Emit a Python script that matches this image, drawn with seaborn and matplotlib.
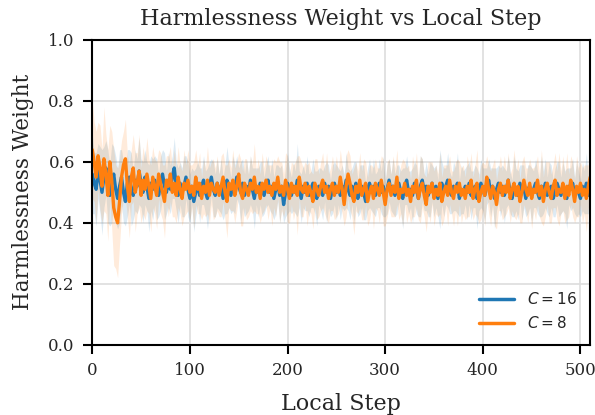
"""Harmlessness weight vs local step for two values of C."""
import matplotlib
matplotlib.use("Agg")
import matplotlib.pyplot as plt
import numpy as np
import pandas as pd
import seaborn as sns

# values, one every 2 local steps (0..510)
steps = list(range(0, 512, 2))

c16_mean = [
    0.56, 0.53, 0.51, 0.57, 0.54, 0.50, 0.55, 0.58, 0.52, 0.49, 0.53, 0.56, 0.51, 0.48, 0.52, 0.55,
    0.50, 0.47, 0.53, 0.55, 0.51, 0.49, 0.54, 0.52, 0.57, 0.53, 0.50, 0.55, 0.52, 0.48, 0.53, 0.51,
    0.54, 0.51, 0.49, 0.53, 0.56, 0.52, 0.50, 0.54, 0.51, 0.55, 0.58, 0.52, 0.49, 0.53, 0.50, 0.52,
    0.55, 0.51, 0.48, 0.52, 0.47, 0.50, 0.53, 0.49, 0.52, 0.54, 0.50, 0.48, 0.52, 0.55, 0.51, 0.49,
    0.53, 0.50, 0.52, 0.48, 0.51, 0.54, 0.52, 0.49, 0.53, 0.51, 0.55, 0.52, 0.50, 0.53, 0.49, 0.52,
    0.50, 0.54, 0.51, 0.48, 0.52, 0.50, 0.53, 0.51, 0.49, 0.52, 0.54, 0.50, 0.52, 0.48, 0.51, 0.53,
    0.49, 0.52, 0.46, 0.50, 0.53, 0.51, 0.49, 0.52, 0.50, 0.54, 0.51, 0.48, 0.52, 0.50, 0.53, 0.49,
    0.51, 0.53, 0.50, 0.48, 0.52, 0.51, 0.49, 0.53, 0.50, 0.52, 0.48, 0.51, 0.53, 0.50, 0.52, 0.49,
    0.52, 0.50, 0.54, 0.51, 0.49, 0.52, 0.50, 0.53, 0.48, 0.51, 0.52, 0.50, 0.47, 0.51, 0.53, 0.50,
    0.52, 0.49, 0.51, 0.53, 0.50, 0.52, 0.48, 0.51, 0.54, 0.50, 0.52, 0.49, 0.51, 0.53, 0.50, 0.48,
    0.52, 0.54, 0.50, 0.51, 0.49, 0.53, 0.51, 0.48, 0.52, 0.54, 0.50, 0.52, 0.49, 0.51, 0.53, 0.50,
    0.52, 0.48, 0.51, 0.53, 0.50, 0.52, 0.54, 0.50, 0.49, 0.52, 0.51, 0.53, 0.48, 0.51, 0.50, 0.52,
    0.50, 0.53, 0.49, 0.51, 0.52, 0.48, 0.50, 0.53, 0.51, 0.49, 0.52, 0.54, 0.50, 0.52, 0.48, 0.51,
    0.53, 0.50, 0.52, 0.49, 0.51, 0.54, 0.50, 0.48, 0.52, 0.51, 0.49, 0.53, 0.50, 0.52, 0.48, 0.51,
    0.52, 0.49, 0.51, 0.53, 0.50, 0.48, 0.52, 0.50, 0.53, 0.49, 0.51, 0.52, 0.48, 0.50, 0.53, 0.51,
    0.49, 0.52, 0.50, 0.48, 0.52, 0.51, 0.53, 0.49, 0.51, 0.50, 0.48, 0.52, 0.50, 0.53, 0.49, 0.51,
]
c8_mean = [
    0.64, 0.60, 0.55, 0.62, 0.58, 0.52, 0.61, 0.56, 0.49, 0.60, 0.54, 0.45, 0.42, 0.40, 0.47, 0.55,
    0.59, 0.61, 0.52, 0.47, 0.55, 0.58, 0.50, 0.53, 0.57, 0.49, 0.54, 0.51, 0.56, 0.52, 0.48, 0.55,
    0.52, 0.49, 0.56, 0.53, 0.50, 0.47, 0.54, 0.52, 0.56, 0.50, 0.53, 0.49, 0.55, 0.51, 0.48, 0.53,
    0.51, 0.54, 0.50, 0.52, 0.49, 0.55, 0.51, 0.53, 0.48, 0.52, 0.50, 0.54, 0.49, 0.53, 0.51, 0.50,
    0.53, 0.49, 0.52, 0.55, 0.50, 0.47, 0.53, 0.51, 0.54, 0.49, 0.52, 0.56, 0.50, 0.48, 0.53, 0.51,
    0.49, 0.53, 0.51, 0.55, 0.50, 0.52, 0.48, 0.53, 0.51, 0.54, 0.50, 0.52, 0.49, 0.53, 0.51, 0.55,
    0.50, 0.52, 0.49, 0.54, 0.51, 0.48, 0.53, 0.50, 0.52, 0.49, 0.55, 0.51, 0.50, 0.53, 0.49, 0.52,
    0.50, 0.47, 0.53, 0.51, 0.49, 0.52, 0.54, 0.50, 0.52, 0.48, 0.51, 0.53, 0.49, 0.52, 0.50, 0.55,
    0.51, 0.46, 0.52, 0.56, 0.53, 0.49, 0.47, 0.52, 0.50, 0.54, 0.49, 0.51, 0.53, 0.47, 0.50, 0.52,
    0.48, 0.53, 0.51, 0.49, 0.54, 0.50, 0.46, 0.51, 0.53, 0.49, 0.52, 0.50, 0.55, 0.48, 0.51, 0.50,
    0.53, 0.49, 0.51, 0.47, 0.52, 0.50, 0.54, 0.48, 0.51, 0.53, 0.49, 0.46, 0.52, 0.50, 0.53, 0.48,
    0.51, 0.49, 0.53, 0.47, 0.50, 0.52, 0.49, 0.54, 0.50, 0.48, 0.52, 0.50, 0.53, 0.49, 0.51, 0.48,
    0.52, 0.50, 0.54, 0.48, 0.51, 0.53, 0.47, 0.50, 0.52, 0.49, 0.55, 0.51, 0.48, 0.52, 0.50, 0.46,
    0.51, 0.53, 0.49, 0.52, 0.50, 0.54, 0.48, 0.51, 0.53, 0.49, 0.52, 0.47, 0.50, 0.54, 0.51, 0.49,
    0.53, 0.48, 0.51, 0.50, 0.54, 0.49, 0.52, 0.47, 0.51, 0.53, 0.50, 0.48, 0.52, 0.54, 0.49, 0.51,
    0.50, 0.53, 0.48, 0.52, 0.49, 0.54, 0.51, 0.47, 0.52, 0.50, 0.53, 0.49, 0.51, 0.48, 0.52, 0.55,
]
# half-width of the shaded band around each line
c16_spread = [
    0.13, 0.10, 0.12, 0.09, 0.11, 0.14, 0.10, 0.09, 0.12, 0.10, 0.13, 0.09, 0.11, 0.10, 0.12, 0.09,
    0.10, 0.08, 0.11, 0.09, 0.12, 0.08, 0.10, 0.09, 0.11, 0.08, 0.10, 0.09, 0.08, 0.11, 0.09, 0.10,
    0.08, 0.10, 0.07, 0.09, 0.08, 0.11, 0.07, 0.09, 0.08, 0.07, 0.10, 0.08, 0.09, 0.07, 0.08, 0.10,
    0.07, 0.09, 0.08, 0.06, 0.10, 0.08, 0.07, 0.09, 0.06, 0.08, 0.07, 0.10, 0.08, 0.06, 0.09, 0.07,
    0.08, 0.06, 0.09, 0.07, 0.08, 0.11, 0.07, 0.06, 0.09, 0.08, 0.07, 0.06, 0.10, 0.08, 0.07, 0.09,
    0.06, 0.08, 0.07, 0.10, 0.06, 0.08, 0.07, 0.09, 0.06, 0.07, 0.08, 0.06, 0.09, 0.07, 0.08, 0.06,
    0.09, 0.07, 0.06, 0.08, 0.10, 0.07, 0.06, 0.08, 0.07, 0.12, 0.06, 0.08, 0.07, 0.06, 0.09, 0.07,
    0.06, 0.08, 0.07, 0.09, 0.06, 0.07, 0.08, 0.06, 0.10, 0.07, 0.06, 0.08, 0.07, 0.09, 0.06, 0.08,
    0.07, 0.06, 0.09, 0.07, 0.08, 0.06, 0.10, 0.07, 0.06, 0.08, 0.07, 0.09, 0.06, 0.07, 0.08, 0.06,
    0.09, 0.07, 0.06, 0.08, 0.07, 0.10, 0.06, 0.08, 0.07, 0.06, 0.09, 0.07, 0.08, 0.06, 0.07, 0.10,
    0.06, 0.08, 0.07, 0.06, 0.09, 0.07, 0.08, 0.06, 0.10, 0.07, 0.06, 0.08, 0.07, 0.09, 0.06, 0.08,
    0.07, 0.06, 0.13, 0.07, 0.08, 0.06, 0.09, 0.07, 0.06, 0.08, 0.07, 0.10, 0.06, 0.08, 0.07, 0.06,
    0.09, 0.07, 0.08, 0.06, 0.07, 0.10, 0.06, 0.08, 0.07, 0.09, 0.06, 0.07, 0.08, 0.06, 0.10, 0.07,
    0.06, 0.08, 0.07, 0.09, 0.06, 0.08, 0.07, 0.06, 0.10, 0.07, 0.08, 0.06, 0.09, 0.07, 0.06, 0.08,
    0.07, 0.09, 0.06, 0.08, 0.07, 0.06, 0.10, 0.07, 0.08, 0.06, 0.09, 0.07, 0.06, 0.08, 0.07, 0.09,
    0.06, 0.08, 0.07, 0.10, 0.06, 0.07, 0.08, 0.06, 0.09, 0.07, 0.06, 0.08, 0.07, 0.10, 0.06, 0.08,
]
c8_spread = [
    0.16, 0.13, 0.15, 0.11, 0.14, 0.12, 0.17, 0.13, 0.15, 0.12, 0.16, 0.19, 0.17, 0.18, 0.14, 0.12,
    0.11, 0.13, 0.10, 0.12, 0.09, 0.11, 0.13, 0.10, 0.12, 0.09, 0.11, 0.10, 0.12, 0.09, 0.11, 0.10,
    0.09, 0.11, 0.08, 0.10, 0.09, 0.12, 0.08, 0.10, 0.09, 0.08, 0.11, 0.09, 0.10, 0.08, 0.09, 0.11,
    0.08, 0.10, 0.09, 0.07, 0.11, 0.09, 0.08, 0.10, 0.07, 0.09, 0.08, 0.11, 0.09, 0.07, 0.10, 0.08,
    0.09, 0.07, 0.10, 0.08, 0.09, 0.12, 0.08, 0.07, 0.10, 0.09, 0.08, 0.07, 0.11, 0.09, 0.08, 0.10,
    0.07, 0.09, 0.08, 0.11, 0.07, 0.09, 0.08, 0.10, 0.07, 0.08, 0.09, 0.07, 0.10, 0.08, 0.09, 0.07,
    0.10, 0.08, 0.07, 0.09, 0.11, 0.08, 0.07, 0.09, 0.08, 0.13, 0.07, 0.09, 0.08, 0.07, 0.10, 0.08,
    0.07, 0.09, 0.08, 0.10, 0.07, 0.08, 0.09, 0.07, 0.11, 0.08, 0.07, 0.09, 0.08, 0.10, 0.07, 0.09,
    0.08, 0.07, 0.10, 0.08, 0.09, 0.07, 0.11, 0.08, 0.07, 0.09, 0.08, 0.10, 0.07, 0.08, 0.09, 0.07,
    0.10, 0.08, 0.07, 0.09, 0.08, 0.11, 0.07, 0.09, 0.08, 0.07, 0.10, 0.08, 0.09, 0.07, 0.08, 0.11,
    0.07, 0.09, 0.08, 0.07, 0.10, 0.08, 0.09, 0.07, 0.11, 0.08, 0.07, 0.09, 0.08, 0.10, 0.07, 0.09,
    0.08, 0.07, 0.10, 0.08, 0.09, 0.07, 0.10, 0.08, 0.07, 0.09, 0.08, 0.11, 0.07, 0.09, 0.08, 0.07,
    0.10, 0.08, 0.09, 0.07, 0.08, 0.11, 0.07, 0.09, 0.08, 0.10, 0.07, 0.08, 0.09, 0.07, 0.11, 0.08,
    0.07, 0.09, 0.08, 0.10, 0.07, 0.09, 0.08, 0.07, 0.11, 0.08, 0.09, 0.07, 0.10, 0.08, 0.07, 0.09,
    0.08, 0.10, 0.07, 0.09, 0.08, 0.07, 0.12, 0.08, 0.09, 0.07, 0.10, 0.08, 0.07, 0.09, 0.08, 0.12,
    0.07, 0.09, 0.08, 0.11, 0.07, 0.08, 0.09, 0.07, 0.10, 0.08, 0.07, 0.09, 0.08, 0.11, 0.07, 0.09,
]

labels = [r"$C = 16$", r"$C = 8$"]
colors = ["#1f77b4", "#ff7f0e"]

sns.set_style("whitegrid")
plt.rcParams["font.family"] = ["DejaVu Serif"]
plt.rcParams["mathtext.fontset"] = "dejavusans"

df = pd.concat([
    pd.DataFrame({"step": steps, "weight": c16_mean, "run": labels[0]}),
    pd.DataFrame({"step": steps, "weight": c8_mean, "run": labels[1]}),
])

fig = plt.figure(figsize=(5.95, 4.15), dpi=100)
ax = fig.add_axes([0.155, 0.169, 0.837, 0.735])

for mean, spread, color in [(c16_mean, c16_spread, colors[0]), (c8_mean, c8_spread, colors[1])]:
    m = np.array(mean)
    s = np.array(spread)
    ax.fill_between(steps, m - s, m + s, color=color, alpha=0.15, linewidth=0)

sns.lineplot(data=df, x="step", y="weight", hue="run", palette=colors,
             linewidth=2.4, ax=ax, legend=True)

ax.set_xlim(0, 510)
ax.set_ylim(0, 1.0)
ax.set_xticks([0, 100, 200, 300, 400, 500])
ax.set_yticks([0.0, 0.2, 0.4, 0.6, 0.8, 1.0])
ax.set_title("Harmlessness Weight vs Local Step", fontsize=16, pad=11)
ax.set_xlabel("Local Step", fontsize=16, labelpad=10)
ax.set_ylabel("Harmlessness Weight", fontsize=15.5, labelpad=10)
ax.tick_params(axis="both", labelsize=12, direction="out", length=6.5, width=1.5,
               pad=6, bottom=True, left=True, color="black")
ax.grid(True, color="#dddddd", linewidth=1.2)
for sp in ax.spines.values():
    sp.set_color("black")
    sp.set_linewidth(1.5)

leg = ax.legend(loc="lower right", frameon=False, handlelength=2.3,
                prop={"family": "DejaVu Sans", "size": 11})
for line in leg.get_lines():
    line.set_linewidth(2.5)

fig.savefig("out.png", dpi=100)
